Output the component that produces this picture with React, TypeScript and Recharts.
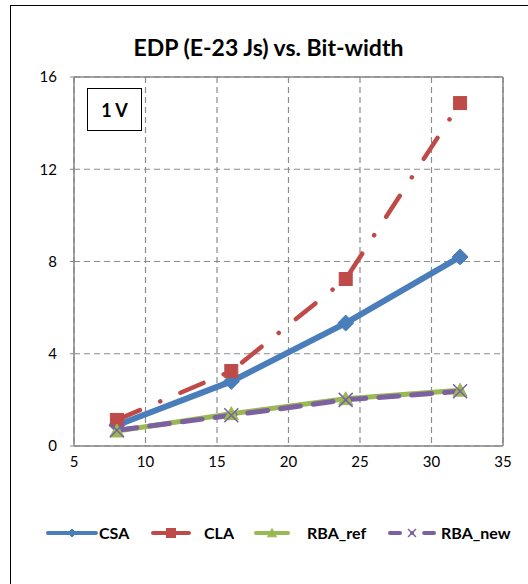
import React from 'react';
import { LineChart, Line, XAxis, YAxis, CartesianGrid, ReferenceLine } from 'recharts';

// bit-width on x, EDP (E-23 Js) on y
const bitWidths = [8, 16, 24, 32];
const csa = [0.9, 2.8, 5.33, 8.2];
const cla = [1.13, 3.25, 7.24, 14.87];
const rbaRef = [0.65, 1.4, 2.05, 2.42];
const rbaNew = [0.68, 1.33, 2.0, 2.37];
const xTicks = [5, 10, 15, 20, 25, 30, 35];
const yTicks = [0, 4, 8, 12, 16];

const data = bitWidths.map((b, i) => ({
  bits: b,
  CSA: csa[i],
  CLA: cla[i],
  RBA_ref: rbaRef[i],
  RBA_new: rbaNew[i],
}));

const BLUE = '#4a7ebb';
const RED = '#be4b48';
const GREEN = '#98b954';
const PURPLE = '#7d60a0';
const FONT = 'Lato, "Open Sans", sans-serif';

const Diamond = (props: any) => {
  const { cx, cy } = props;
  const s = props.s ?? 8;
  if (cx == null || cy == null) return null;
  return <path d={`M${cx},${cy - s} L${cx + s},${cy} L${cx},${cy + s} L${cx - s},${cy} Z`} fill={BLUE} stroke={BLUE} />;
};

const Square = (props: any) => {
  const { cx, cy } = props;
  const s = props.s ?? 6.5;
  if (cx == null || cy == null) return null;
  return <rect x={cx - s} y={cy - s} width={2 * s} height={2 * s} fill={RED} stroke={RED} />;
};

const Triangle = (props: any) => {
  const { cx, cy } = props;
  const s = props.s ?? 7;
  if (cx == null || cy == null) return null;
  return <path d={`M${cx},${cy - s} L${cx + s},${cy + s * 0.85} L${cx - s},${cy + s * 0.85} Z`} fill={GREEN} stroke={GREEN} />;
};

const XMark = (props: any) => {
  const { cx, cy } = props;
  const s = props.s ?? 7;
  if (cx == null || cy == null) return null;
  return (
    <g stroke={PURPLE} strokeWidth={1.5}>
      <line x1={cx - s} y1={cy - s} x2={cx + s} y2={cy + s} />
      <line x1={cx - s} y1={cy + s} x2={cx + s} y2={cy - s} />
    </g>
  );
};

const legendItems = [
  { name: 'CSA', color: BLUE, dash: undefined as string | undefined, marker: 'diamond', lineW: 48, textX: 99, x: 48 },
  { name: 'CLA', color: RED, dash: undefined, marker: 'square', lineW: 36, textX: 204, x: 153 },
  { name: 'RBA_ref', color: GREEN, dash: undefined, marker: 'triangle', lineW: 32, textX: 307, x: 256 },
  { name: 'RBA_new', color: PURPLE, dash: '10 12 0.1 12', marker: 'x', lineW: 44, textX: 441, x: 390 },
];

const LegendIcon = ({ item }: { item: typeof legendItems[number] }) => {
  const cy = 533;
  const mid = item.x + item.lineW / 2;
  let m: React.ReactNode = null;
  if (item.marker === 'diamond') m = <Diamond cx={mid} cy={cy} s={4} />;
  if (item.marker === 'square') m = <Square cx={mid} cy={cy} s={4.5} />;
  if (item.marker === 'triangle') m = <Triangle cx={mid} cy={cy} s={4.5} />;
  if (item.marker === 'x') m = <XMark cx={mid} cy={cy} s={4} />;
  return (
    <g>
      <line x1={item.x} y1={cy} x2={item.x + item.lineW} y2={cy} stroke={item.color} strokeWidth={4}
        strokeLinecap="round" strokeDasharray={item.dash} />
      {m}
      <text x={item.textX} y={cy} dy="0.36em" fontFamily={FONT} fontWeight="bold" fontSize={16} fill="#000">
        {item.name}
      </text>
    </g>
  );
};

export default function App() {
  return (
    <div style={{ position: 'absolute', left: 0, top: 0, width: 528, height: 584, background: '#fff', overflow: 'hidden' }}>
      <div style={{ position: 'absolute', left: 10, top: 5, width: 600, height: 700, border: '1.5px solid #000' }} />
      <div style={{
        position: 'absolute', left: 0, top: 30, width: 537, textAlign: 'center',
        fontFamily: FONT, fontWeight: 'bold', fontSize: 23, lineHeight: '34px', color: '#000',
      }}>
        EDP (E-23 Js) vs. Bit-width
      </div>
      <LineChart width={528} height={584} data={data} margin={{ top: 77, right: 25, bottom: 108, left: 34 }}
        style={{ position: 'absolute', left: 0, top: 0 }}>
        <CartesianGrid stroke="#8c8c8c" strokeDasharray="6 4" strokeWidth={1.2} />
        <XAxis dataKey="bits" type="number" domain={[5, 35]} ticks={xTicks} interval={0}
          axisLine={{ stroke: '#868686', strokeWidth: 1.5 }} tickLine={false} tickSize={0} tickMargin={10}
          tick={{ fill: '#000', fontSize: 15, fontFamily: FONT }} height={30} />
        <YAxis type="number" domain={[0, 16]} ticks={yTicks} interval={0} width={40}
          axisLine={{ stroke: '#868686', strokeWidth: 1.5 }} tickLine={{ stroke: '#868686' }} tickSize={4} tickMargin={13}
          tick={{ fill: '#000', fontSize: 15, fontFamily: FONT }} />
        <ReferenceLine y={16} stroke="#868686" strokeWidth={1.5} />
        <ReferenceLine x={35} stroke="#868686" strokeWidth={1.5} />
        <Line dataKey="CSA" stroke={BLUE} strokeWidth={6} dot={<Diamond />} isAnimationActive={false} />
        <Line dataKey="CLA" stroke={RED} strokeWidth={4.5} strokeLinecap="round" strokeDasharray="25 22 0.1 22"
          dot={<Square />} isAnimationActive={false} />
        <Line dataKey="RBA_ref" stroke={GREEN} strokeWidth={5} dot={<Triangle />} isAnimationActive={false} />
        <Line dataKey="RBA_new" stroke={PURPLE} strokeWidth={5} strokeLinecap="round" strokeDasharray="20 13"
          dot={<XMark />} isAnimationActive={false} />
      </LineChart>
      <div style={{
        position: 'absolute', left: 87, top: 88, width: 53, height: 41, border: '1.5px solid #000',
        background: '#fff', fontFamily: FONT, fontWeight: 'bold', fontSize: 18, color: '#000',
        display: 'flex', alignItems: 'center', justifyContent: 'center',
      }}>
        1 V
      </div>
      <svg width={528} height={584} style={{ position: 'absolute', left: 0, top: 0, pointerEvents: 'none' }}>
        {legendItems.map((it) => <LegendIcon key={it.name} item={it} />)}
      </svg>
    </div>
  );
}
